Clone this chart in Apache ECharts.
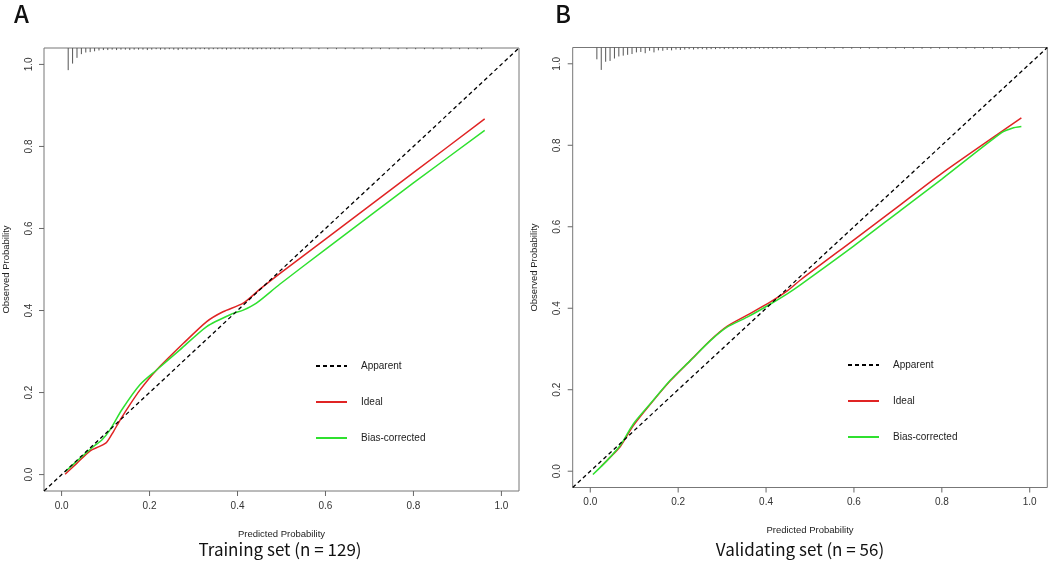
<!DOCTYPE html>
<html>
<head>
<meta charset="utf-8">
<script src="https://cdn.jsdelivr.net/npm/echarts@6/dist/echarts.min.js"></script>
<style>
  html, body { margin: 0; padding: 0; background: #fff; }
  #main { width: 1052px; height: 564px; }
</style>
</head>
<body>
<div id="main"></div>
<script>
// tick labels shared by both panels
var tickValues = [0, 0.2, 0.4, 0.6, 0.8, 1.0];
var seriesNames = ['Apparent', 'Ideal', 'Bias-corrected'];

// panel A: training set
var diagA = [[-0.04, -0.04], [1.04, 1.04]];
var idealA = [[0.008, 0.001], [0.035, 0.028], [0.065, 0.058], [0.085, 0.068], [0.102, 0.078],
    [0.118, 0.105], [0.133, 0.133], [0.155, 0.170], [0.178, 0.206], [0.216, 0.255],
    [0.277, 0.320], [0.330, 0.373], [0.367, 0.397], [0.413, 0.418], [0.451, 0.452],
    [0.496, 0.490], [0.600, 0.574], [0.800, 0.736], [0.962, 0.867]];
var biasA = [[0.008, 0.007], [0.040, 0.038], [0.072, 0.068], [0.092, 0.085], [0.110, 0.109],
    [0.137, 0.158], [0.178, 0.219], [0.216, 0.255], [0.269, 0.304], [0.330, 0.361],
    [0.390, 0.393], [0.413, 0.401], [0.443, 0.418], [0.496, 0.464], [0.600, 0.549],
    [0.800, 0.711], [0.962, 0.839]];
// rug of predicted probabilities: [bin centre, spike length]
var rugA = [[0.015, 0.054], [0.025, 0.038], [0.035, 0.024], [0.045, 0.015], [0.055, 0.011],
    [0.065, 0.010], [0.075, 0.008], [0.085, 0.006], [0.095, 0.005], [0.105, 0.005],
    [0.115, 0.004], [0.125, 0.005], [0.135, 0.004], [0.145, 0.004], [0.155, 0.005],
    [0.165, 0.004], [0.175, 0.004], [0.185, 0.004], [0.195, 0.005], [0.205, 0.004],
    [0.215, 0.003], [0.225, 0.004], [0.235, 0.004], [0.245, 0.003], [0.255, 0.004],
    [0.265, 0.005], [0.275, 0.003], [0.285, 0.004], [0.295, 0.003], [0.305, 0.004],
    [0.315, 0.003], [0.325, 0.003], [0.335, 0.004], [0.345, 0.003], [0.355, 0.003],
    [0.365, 0.003], [0.375, 0.004], [0.385, 0.003], [0.395, 0.003], [0.405, 0.003],
    [0.415, 0.003], [0.425, 0.003], [0.435, 0.004], [0.445, 0.003], [0.455, 0.003],
    [0.465, 0.003], [0.475, 0.003], [0.485, 0.003], [0.495, 0.003], [0.505, 0.003],
    [0.525, 0.003], [0.545, 0.003], [0.565, 0.003], [0.585, 0.003], [0.605, 0.003],
    [0.625, 0.003], [0.645, 0.003], [0.665, 0.003], [0.685, 0.003], [0.705, 0.003],
    [0.725, 0.003], [0.745, 0.003], [0.765, 0.003], [0.785, 0.003], [0.805, 0.003],
    [0.825, 0.003], [0.845, 0.003], [0.865, 0.003], [0.885, 0.003], [0.905, 0.003],
    [0.925, 0.003], [0.945, 0.003], [0.955, 0.003]];

// panel B: validating set
var diagB = [[-0.04, -0.04], [1.04, 1.04]];
var idealB = [[0.025, 0.012], [0.045, 0.034], [0.068, 0.060], [0.098, 0.112], [0.137, 0.165],
    [0.182, 0.222], [0.228, 0.272], [0.274, 0.322], [0.312, 0.356], [0.357, 0.383],
    [0.411, 0.416], [0.449, 0.443], [0.479, 0.470], [0.600, 0.568], [0.707, 0.655],
    [0.800, 0.731], [0.981, 0.867]];
var biasB = [[0.006, -0.008], [0.038, 0.026], [0.068, 0.063], [0.098, 0.116], [0.137, 0.166],
    [0.182, 0.223], [0.228, 0.272], [0.274, 0.321], [0.312, 0.354], [0.357, 0.378],
    [0.411, 0.411], [0.449, 0.436], [0.479, 0.458], [0.600, 0.553], [0.707, 0.641],
    [0.800, 0.717], [0.936, 0.831], [0.960, 0.842], [0.981, 0.846]];
var rugB = [[0.015, 0.029], [0.025, 0.055], [0.035, 0.035], [0.045, 0.033], [0.055, 0.027],
    [0.065, 0.022], [0.075, 0.020], [0.085, 0.018], [0.095, 0.016], [0.105, 0.012],
    [0.115, 0.011], [0.125, 0.014], [0.135, 0.008], [0.145, 0.012], [0.155, 0.007],
    [0.165, 0.008], [0.175, 0.006], [0.185, 0.007], [0.195, 0.005], [0.205, 0.006],
    [0.215, 0.005], [0.225, 0.004], [0.235, 0.005], [0.245, 0.004], [0.255, 0.004],
    [0.265, 0.005], [0.275, 0.004], [0.285, 0.004], [0.295, 0.003], [0.305, 0.004],
    [0.315, 0.003], [0.325, 0.004], [0.335, 0.003], [0.345, 0.003], [0.355, 0.004],
    [0.365, 0.003], [0.375, 0.003], [0.385, 0.003], [0.395, 0.003], [0.405, 0.003],
    [0.415, 0.003], [0.425, 0.003], [0.435, 0.003], [0.445, 0.003], [0.455, 0.003],
    [0.475, 0.003], [0.495, 0.003], [0.515, 0.003], [0.535, 0.003], [0.555, 0.003],
    [0.575, 0.003], [0.595, 0.003], [0.615, 0.003], [0.635, 0.003], [0.655, 0.003],
    [0.675, 0.003], [0.695, 0.003], [0.715, 0.003], [0.735, 0.003], [0.755, 0.003],
    [0.775, 0.003], [0.795, 0.003], [0.815, 0.003], [0.835, 0.003], [0.855, 0.003],
    [0.875, 0.003], [0.895, 0.003], [0.915, 0.003], [0.935, 0.003], [0.955, 0.003],
    [0.975, 0.003]];

var AXMIN = -0.04, AXMAX = 1.04;
var RED = '#e02424', GREEN = '#2fe02f';
var textFont = '"Liberation Sans", Arial, sans-serif';
var titleFont = '"Noto Sans CJK SC", sans-serif';

function makeX(idx) {
    return {
        type: 'value', gridIndex: idx, min: AXMIN, max: AXMAX, position: 'bottom',
        splitLine: { show: false },
        axisLine: { show: false, onZero: false },
        axisTick: { show: false },
        axisLabel: {
            customValues: tickValues, margin: 10, fontSize: 10, color: '#333', fontFamily: textFont,
            formatter: function (v) { return v.toFixed(1); }
        },
        name: 'Predicted Probability', nameLocation: 'middle', nameGap: 38,
        nameTextStyle: { fontSize: 9.5, color: '#222', fontFamily: textFont }
    };
}
function makeY(idx) {
    return {
        type: 'value', gridIndex: idx, min: AXMIN, max: AXMAX, position: 'left',
        splitLine: { show: false },
        axisLine: { show: false, onZero: false },
        axisTick: { show: false },
        axisLabel: {
            customValues: tickValues, margin: 10, fontSize: 10, color: '#333', fontFamily: textFont,
            rotate: 90,
            formatter: function (v) { return v.toFixed(1); }
        },
        name: 'Observed Probability', nameLocation: 'middle', nameGap: 33, nameRotate: 90,
        nameTextStyle: { fontSize: 9.5, color: '#222', fontFamily: textFont }
    };
}
function lineSeries(name, idx, data, color, dashed) {
    return {
        name: name, type: 'line', xAxisIndex: idx, yAxisIndex: idx,
        data: data, showSymbol: false, symbol: 'none', smooth: dashed ? false : 0.25,
        itemStyle: { color: color },
        lineStyle: { color: color, width: dashed ? 1.3 : 1.5, type: dashed ? [4, 3] : 'solid' },
        z: dashed ? 3 : 2
    };
}
function rugSeries(idx, data) {
    return {
        type: 'custom', xAxisIndex: idx, yAxisIndex: idx, data: data,
        encode: { x: 0, y: 1 }, silent: true,
        renderItem: function (params, api) {
            var p1 = api.coord([api.value(0), AXMAX]);
            var p2 = api.coord([api.value(0), AXMAX - api.value(1)]);
            return {
                type: 'line',
                shape: { x1: p1[0], y1: p1[1], x2: p2[0], y2: p2[1] },
                style: { stroke: '#555', lineWidth: 1 }
            };
        }
    };
}
function makeLegend(left, top) {
    return {
        data: seriesNames, orient: 'vertical', left: left, top: top, padding: 0,
        itemWidth: 31, itemHeight: 10, itemGap: 26, selectedMode: false,
        itemStyle: { opacity: 0 },
        textStyle: { fontSize: 10, color: '#222', fontFamily: textFont, padding: [0, 0, 0, 9] }
    };
}

var titleGraphics = [
    { type: 'text', left: 14, top: 2, style: { text: 'A', fontSize: 24, fontWeight: 500, fontFamily: titleFont, fill: '#111' } },
    { type: 'text', left: 555, top: 2, style: { text: 'B', fontSize: 24, fontWeight: 500, fontFamily: titleFont, fill: '#111' } },
    { type: 'text', x: 280, y: 550, style: { text: 'Training set (n = 129)', fontSize: 17, align: 'center', verticalAlign: 'middle', fontFamily: titleFont, fill: '#111' } },
    { type: 'text', x: 800, y: 550, style: { text: 'Validating set (n = 56)', fontSize: 17, align: 'center', verticalAlign: 'middle', fontFamily: titleFont, fill: '#111' } }
];

var myChart = echarts.init(document.getElementById('main'));
var option = {
    animation: false,
    backgroundColor: '#fff',
    grid: [
        { left: 44, top: 48, width: 475, height: 443, show: true, borderColor: '#777', borderWidth: 1 },
        { left: 572.7, top: 47.5, width: 474.6, height: 440, show: true, borderColor: '#777', borderWidth: 1 }
    ],
    xAxis: [makeX(0), makeX(1)],
    yAxis: [makeY(0), makeY(1)],
    legend: [makeLegend(315, 361), makeLegend(847, 360)],
    graphic: titleGraphics,
    series: [
        lineSeries('Apparent', 0, diagA, '#000', true),
        lineSeries('Ideal', 0, idealA, RED, false),
        lineSeries('Bias-corrected', 0, biasA, GREEN, false),
        rugSeries(0, rugA),
        lineSeries('Apparent', 1, diagB, '#000', true),
        lineSeries('Ideal', 1, idealB, RED, false),
        lineSeries('Bias-corrected', 1, biasB, GREEN, false),
        rugSeries(1, rugB)
    ]
};
myChart.setOption(option);

// outward R-style tick marks, placed through each grid's own scales
var tickGraphics = [];
[0, 1].forEach(function (g) {
    tickValues.forEach(function (v) {
        var px = myChart.convertToPixel({ gridIndex: g }, [v, AXMIN]);
        var py = myChart.convertToPixel({ gridIndex: g }, [AXMIN, v]);
        tickGraphics.push({ type: 'line', silent: true, z: 10,
            shape: { x1: px[0], y1: px[1], x2: px[0], y2: px[1] + 5 },
            style: { stroke: '#666', lineWidth: 1 } });
        tickGraphics.push({ type: 'line', silent: true, z: 10,
            shape: { x1: py[0], y1: py[1], x2: py[0] - 5, y2: py[1] },
            style: { stroke: '#666', lineWidth: 1 } });
    });
});
myChart.setOption({ graphic: titleGraphics.concat(tickGraphics) });
</script>
</body>
</html>
